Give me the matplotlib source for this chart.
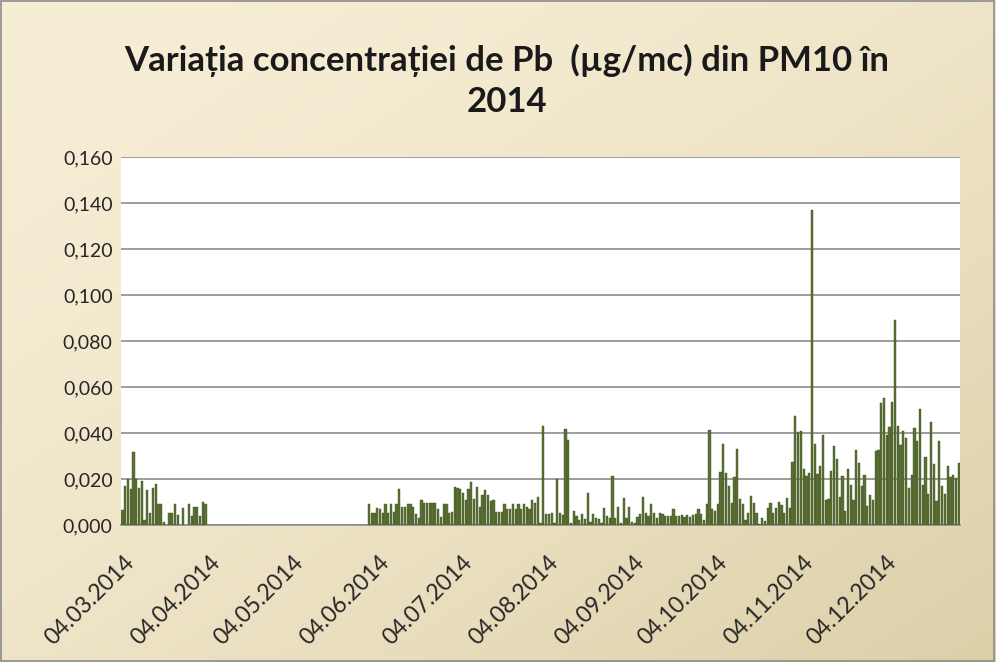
import numpy as np
import pandas as pd
import matplotlib
matplotlib.use("Agg")
import matplotlib.pyplot as plt
import matplotlib.dates as mdates
from matplotlib.patches import Rectangle
from matplotlib.ticker import FuncFormatter

nan = np.nan

# Pb in PM10, ug/mc, daily values
dates_spring = pd.date_range("2014-03-04", "2014-04-03", freq="D")
vals_spring = [0.0064, 0.017, 0.020, 0.0157, 0.0317, 0.020, 0.016, 0.019, 0.002, 0.015,
               0.005, 0.016, 0.018, 0.009, 0.009, 0.0014, nan, 0.005, 0.005, 0.009,
               0.0043, nan, 0.0074, nan, 0.009, 0.004, 0.008, 0.008, 0.004, 0.010, 0.009]

dates_summer = pd.date_range("2014-06-01", "2014-12-31", freq="D")
vals_summer = [
    0.0089, 0.005, 0.005, 0.0074, 0.0069, 0.005, 0.0093, 0.005, 0.0089, 0.0057,
    0.0093, 0.0157, 0.0079, 0.0079, 0.0089, 0.0089, 0.0079, 0.0046, 0.0029, 0.011,
    0.0094, 0.0094, 0.0094, 0.0094, 0.0094, 0.0069, 0.0036, 0.0089, 0.0093, 0.005,
    0.0057, 0.0164, 0.016,
    0.0157, 0.014, 0.011, 0.0157, 0.0186, 0.0114, 0.0164, 0.0079, 0.0129, 0.0153,
    0.0131, 0.0103, 0.011, 0.0057, 0.0057, 0.0057, 0.0089, 0.0069, 0.0069, 0.0089,
    0.0069, 0.0093, 0.0071, 0.0089, 0.0079, 0.0071, 0.0107, 0.0097, 0.0121, 0.001,
    0.0429, 0.0046, 0.0046,
    0.005, 0.001, 0.020, 0.0053, 0.0043, 0.0417, 0.0371, 0.0007, 0.0061, 0.004,
    0.002, 0.0047, 0.0026, 0.014, 0.0014, 0.0046, 0.0029, 0.0026, 0.0007, 0.0074,
    0.004, 0.0029, 0.0211, 0.0029, 0.0079, 0.0007, 0.0117, 0.0029, 0.0079, 0.0014,
    0.0007, 0.0036,
    0.0046, 0.0121, 0.005, 0.004, 0.0089, 0.0053, 0.0029, 0.005, 0.0046, 0.004,
    0.004, 0.004, 0.0069, 0.004, 0.004, 0.0043, 0.0036, 0.0043, 0.0036, 0.0043,
    0.0046, 0.0069, 0.0046, 0.002, 0.0089, 0.0411, 0.0071, 0.0061, 0.0089, 0.0231,
    0.0354, 0.0228, 0.017,
    0.0095, 0.021, 0.0332, 0.0112, 0.009, 0.002, 0.0052, 0.0124, 0.0095, 0.0052,
    0.0006, 0.003, 0.0019, 0.0073, 0.0095, 0.0052, 0.0073, 0.0102, 0.0088, 0.0052,
    0.0117, 0.0073, 0.0275, 0.0472, 0.0404, 0.041, 0.0242, 0.0213, 0.0227, 0.137,
    0.0351, 0.022,
    0.0255, 0.0393, 0.011, 0.0113, 0.0233, 0.0345, 0.0287, 0.012, 0.0212, 0.006,
    0.0243, 0.0175, 0.011, 0.0328, 0.027, 0.0171, 0.0216, 0.0081, 0.0132, 0.0107,
    0.032, 0.0325, 0.053, 0.0552, 0.0393, 0.0426,
    0.0534, 0.089, 0.0429, 0.0347, 0.0409, 0.038, 0.016, 0.0217, 0.0423, 0.0364,
    0.0505, 0.0174, 0.0296, 0.0135, 0.0447, 0.0263, 0.0106, 0.0364, 0.017, 0.0135,
    0.0256, 0.021, 0.0217, 0.0203, 0.027]

tick_dates = pd.date_range("2014-03-04", periods=10, freq=pd.DateOffset(months=1))
tick_labels = [d.strftime("%d.%m.%Y") for d in tick_dates]
title = "Variația concentrației de Pb  (µg/mc) din PM10 în\n2014"

plt.rcParams['font.family'] = ['Lato', 'DejaVu Sans']

fig = plt.figure(figsize=(9.96, 6.62), dpi=100)

# gradient background of the chart area
bg = fig.add_axes([0, 0, 1, 1], zorder=0)
gx, gy = np.meshgrid(np.linspace(0, 1, 200), np.linspace(0, 1, 200))
g = (gx + gy) / 2
c0 = np.array([247, 238, 214]) / 255
c1 = np.array([220, 207, 168]) / 255
img = c0 + (c1 - c0) * (g[..., None] ** 1.6)
bg.imshow(img, extent=[0, 1, 0, 1], aspect='auto', origin='upper')
bg.axis('off')
fig.patches.append(Rectangle((0.001, 0.001), 0.997, 0.997, transform=fig.transFigure,
                             fill=False, edgecolor='#8c8c8c', linewidth=1.2, zorder=5))

ax = fig.add_axes([0.1215, 0.207, 0.8425, 0.556], zorder=1)
ax.set_facecolor('white')

ax.bar(dates_spring, vals_spring, width=0.8, color='#5b7134', edgecolor='#3f5221',
       linewidth=0.3, zorder=3)
ax.bar(dates_summer, vals_summer, width=0.8, color='#5b7134', edgecolor='#3f5221',
       linewidth=0.3, zorder=3)

ax.set_ylim(0, 0.16)
ax.set_yticks(np.arange(0, 0.161, 0.02))
ax.yaxis.set_major_formatter(FuncFormatter(lambda v, p: f"{v:.3f}".replace('.', ',')))
ax.grid(axis='y', color='#8c8c8c', linewidth=1.2, zorder=1)
ax.set_axisbelow(True)

ax.set_xlim(mdates.date2num(pd.Timestamp("2014-03-03 12:00")),
            mdates.date2num(pd.Timestamp("2014-12-31 12:00")))
ax.set_xticks(tick_dates)
ax.set_xticklabels([])
# rotated date labels, placed by hand so they sit like the Excel ones
for d, lab in zip(tick_dates, tick_labels):
    ax.annotate(lab, xy=(mdates.date2num(d), 0), xycoords=('data', 'axes fraction'),
                xytext=(1, -19), textcoords='offset points', rotation=45,
                ha='right', va='top', rotation_mode='anchor', fontsize=16.5,
                color='#262626', annotation_clip=False)

for s in ['top', 'right', 'left']:
    ax.spines[s].set_visible(False)
ax.spines['bottom'].set_color('#8c8c8c')
ax.spines['bottom'].set_linewidth(1.2)
ax.tick_params(axis='both', length=0, colors='#262626')
ax.tick_params(axis='y', pad=6, labelsize=14)

fig.text(0.509, 0.878, title, ha='center', va='center', fontsize=25,
         fontweight='bold', color='#1a1a1a', linespacing=1.35)

fig.savefig("out.png", dpi=100)
